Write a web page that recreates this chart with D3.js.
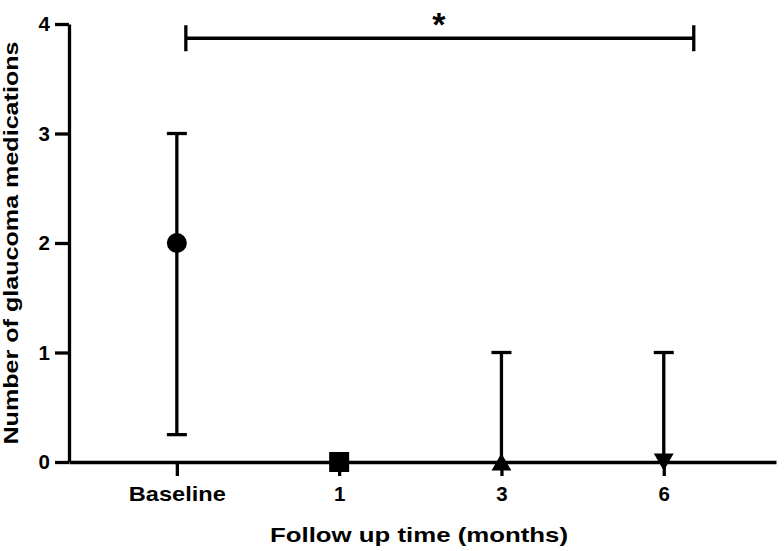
<!DOCTYPE html>
<html>
<head>
<meta charset="utf-8">
<script src="https://cdn.jsdelivr.net/npm/d3@7"></script>
<style>
  body { margin: 0; background: #fff; }
  svg text { font-family: "Liberation Sans", Arial, sans-serif; font-weight: bold; fill: #000; }
</style>
</head>
<body>
<svg width="784" height="551"></svg>
<script>
// median and range per follow-up visit
const categories = ["Baseline", "1", "3", "6"];
const medians = [2, 0, 0, 0];
const lower = [0.25, 0, 0, 0];
const upper = [3, 0, 1, 1];
const symbols = ["circle", "square", "triangle", "triangleDown"];
const yTicks = [0, 1, 2, 3, 4];
const bracket = ["Baseline", "6"];
const bracketLevel = 3.87;

const svg = d3.select("svg");

const x = d3.scalePoint()
    .domain(categories)
    .range([69, 776])
    .padding(0.678)
    .align(0.49);

const y = d3.scaleLinear()
    .domain([0, 4])
    .range([462, 24]);

const pts = categories.map((c, i) => ({
    cat: c, med: medians[i], lo: lower[i], hi: upper[i], sym: symbols[i]
}));

// axes
const yAxis = svg.append("g")
    .attr("transform", "translate(69,0)")
    .call(d3.axisLeft(y).tickValues(yTicks).tickFormat(d3.format("d"))
        .tickSize(14).tickSizeOuter(0).tickPadding(5));

const xAxis = svg.append("g")
    .attr("transform", "translate(0,462)")
    .call(d3.axisBottom(x).tickSize(14).tickSizeOuter(0).tickPadding(10));

[yAxis, xAxis].forEach(g => {
    g.selectAll("path, line").attr("stroke", "#000").attr("stroke-width", 3.3);
    g.selectAll("text").style("font-size", "20.5px");
});
xAxis.selectAll("text").filter(d => d === "Baseline")
    .attr("textLength", 97).attr("lengthAdjust", "spacingAndGlyphs");

// error bars
const bars = svg.append("g").attr("stroke", "#000").attr("stroke-width", 3.3);
pts.forEach(p => {
    if (p.hi === p.lo) return;
    const cx = x(p.cat);
    bars.append("line").attr("x1", cx).attr("x2", cx).attr("y1", y(p.lo)).attr("y2", y(p.hi));
    bars.append("line").attr("x1", cx - 10).attr("x2", cx + 10).attr("y1", y(p.hi)).attr("y2", y(p.hi));
    if (p.lo > 0)
        bars.append("line").attr("x1", cx - 10).attr("x2", cx + 10).attr("y1", y(p.lo)).attr("y2", y(p.lo));
});

// markers
const shape = {
    circle: [d3.symbolCircle, 314, 0, 0],
    square: [d3.symbolSquare, 400, 0, 0],
    triangle: [d3.symbolTriangle, 170, 0, 2.8],
    triangleDown: [d3.symbolTriangle, 170, 180, -2.8]
};
svg.append("g").selectAll("path")
    .data(pts)
    .join("path")
    .attr("d", d => d3.symbol(shape[d.sym][0], shape[d.sym][1])())
    .attr("transform", d => `translate(${x(d.cat)},${y(d.med) + shape[d.sym][3]}) rotate(${shape[d.sym][2]})`)
    .attr("fill", "#000");

// significance bracket
const bx1 = x(bracket[0]) + 9, bx2 = x(bracket[1]) + 30, by = y(bracketLevel);
const br = svg.append("g").attr("stroke", "#000").attr("stroke-width", 3.3).attr("fill", "none");
br.append("line").attr("x1", bx1).attr("x2", bx2).attr("y1", by).attr("y2", by);
br.append("line").attr("x1", bx1).attr("x2", bx1).attr("y1", by - 13).attr("y2", by + 13);
br.append("line").attr("x1", bx2).attr("x2", bx2).attr("y1", by - 13).attr("y2", by + 13);
svg.append("text")
    .attr("x", (bx1 + bx2) / 2 - 1)
    .attr("y", 36)
    .attr("text-anchor", "middle")
    .style("font-size", "34px")
    .text("*");

// axis titles
svg.append("text")
    .attr("x", 419)
    .attr("y", 542)
    .attr("text-anchor", "middle")
    .attr("textLength", 298)
    .attr("lengthAdjust", "spacingAndGlyphs")
    .style("font-size", "21px")
    .text("Follow up time (months)");

svg.append("text")
    .attr("transform", "translate(18,243) rotate(-90)")
    .attr("text-anchor", "middle")
    .attr("textLength", 403)
    .attr("lengthAdjust", "spacingAndGlyphs")
    .style("font-size", "21px")
    .text("Number of glaucoma medications");
</script>
</body>
</html>
